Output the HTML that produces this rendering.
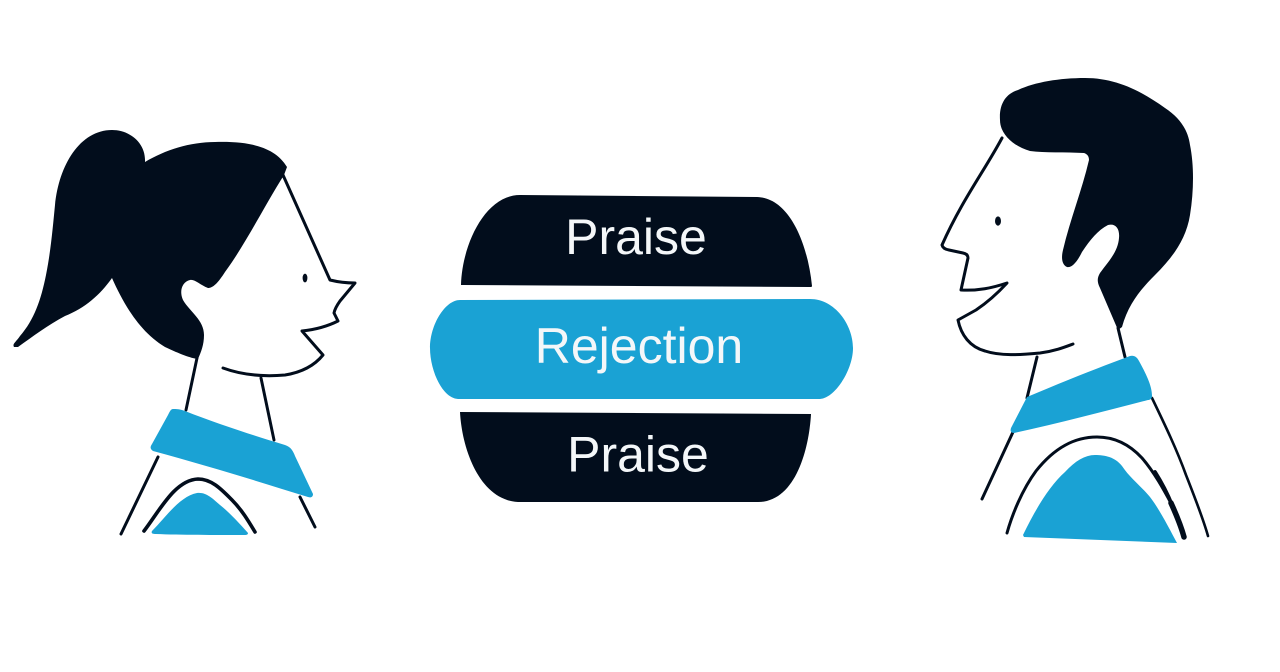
<!DOCTYPE html>
<html>
<head>
<meta charset="utf-8">
<style>
html,body{margin:0;padding:0;background:#fff;width:1280px;height:672px;overflow:hidden}
svg{display:block;filter:blur(.35px)}
text{font-family:"Liberation Sans",sans-serif;font-size:50px;fill:#f4f7f9;text-anchor:middle}
.l{fill:none;stroke:#020d1c;stroke-linecap:round;stroke-linejoin:round}
.d{fill:#020d1c}
.b{fill:#1aa2d4}
</style>
</head>
<body>
<svg width="1280" height="672" viewBox="0 0 1280 672" xmlns="http://www.w3.org/2000/svg">
<rect width="1280" height="672" fill="#fff"/>

<!-- Woman -->
<path class="l" stroke-width="3" d="M283 175L330 280Q342 283 355 283L340 301Q335 308 334 313L338 321Q322 329 302 331L323 355Q310 371 285 375Q250 378 223 368"/>
<path class="l" stroke-width="3" d="M197 358L186 410M261 378L274 440M158 457L121 534M300 497L315 527"/>
<path class="d" d="M14 347C12 344 16 342 20 336C34 320 41 300 46 275C51 250 53 225 55 205C59 165 80 130 112 130C130 130 146 143 145 162C165 150 190 142 215 142C250 141 275 147 287 167L284 175C265 205 245 245 225 272C218 283 213 288 208 288C200 285 195 279 190 280C182 282 179 291 183 300C190 312 204 320 204 335C204 345 201 352 198 359C190 358 180 354 165 347C140 332 124 305 112 278C100 295 85 308 65 316C48 325 32 337 18 347Z"/>
<ellipse class="d" cx="305" cy="278" rx="2.4" ry="4.4"/>
<path class="b" d="M173 409C176 409 180 409 185 411C215 423 255 436 285 445C291 447 293 451 295 456L313 494C313 497 311 498 308 497C260 482 205 465 153 451C150 449 150 447 152 444L168 415C170 411 171 409 173 409Z"/>
<path class="l" stroke-width="3.6" d="M144 531C160 510 175 480 198 479C212 479 222 490 232 500C242 510 249 522 255 532"/>
<path class="b" d="M152 531C165 518 180 496 197 493C206 492 212 498 220 505C230 513 240 524 248 533C248 535 246 535 244 535C215 535 180 535 156 534C152 534 151 533 152 531Z"/>

<!-- Burger -->
<path class="d" d="M461 285C462 245 485 195 520 195L757 197C790 198 808 245 812 286C812 287 811 287 810 287L463 285C462 285 461 285 461 285Z"/>
<path class="b" d="M430 348C430 325 445 300 460 300L810 299C835 299 853 325 853 348C853 370 835 398 820 399L458 399C442 398 430 370 430 348Z"/>
<path class="d" d="M460 412L811 414C809 450 795 502 758 502L518 502C480 500 462 450 460 412Z"/>
<text x="636" y="254">Praise</text>
<text x="639" y="363">Rejection</text>
<text x="638" y="471.5">Praise</text>

<!-- Man -->
<path class="l" stroke-width="3" d="M1002 138C985 170 962 200 942 245Q943 249 949 250L963 253Q968 254 968 258L961 290C978 291 992 288 1007 283C995 296 985 304 976 310L958 320C961 335 970 347 985 351C1000 356 1020 355 1040 353C1055 351 1065 347 1073 344"/>
<path class="l" stroke-width="3" d="M1037 357L1027 398M1118 328L1125 357M1013 432L982 499"/>
<path class="l" stroke-width="2.6" d="M1152 398C1165 425 1177 450 1186 475C1195 498 1203 518 1208 536"/>
<path class="d" d="M1000 120C999 105 1005 94 1018 90C1035 82 1060 78 1085 78C1115 78 1140 90 1165 108C1180 118 1188 130 1190 145C1194 165 1194 190 1190 215C1186 240 1172 258 1155 275C1140 290 1128 305 1122 327L1118 330L1100 288C1097 282 1097 278 1100 273C1108 262 1118 252 1119 238C1120 228 1115 223 1108 225C1098 230 1090 240 1082 252C1077 262 1072 268 1067 267C1062 265 1061 258 1063 250C1070 220 1082 190 1089 160C1089 156 1087 154 1084 153C1065 152 1045 153 1030 151C1015 147 1000 135 1000 120Z"/>
<ellipse class="d" cx="998" cy="221" rx="3" ry="4.6"/>
<path class="b" d="M1027 397C1060 383 1100 367 1130 356C1134 355 1137 357 1139 361C1145 372 1152 385 1152 396C1152 399 1150 400 1148 400C1105 411 1060 423 1014 433C1011 433 1010 431 1011 428Z"/>
<path class="l" stroke-width="3" d="M1007 533C1012 515 1022 490 1036 471C1055 447 1075 437 1097 437C1115 437 1130 445 1142 458C1155 473 1165 492 1172 505"/>
<path class="l" stroke-width="3.8" d="M1155 472C1162 483 1168 495 1172 505"/>
<path class="l" stroke-width="5.5" d="M1171 503C1176 514 1181 526 1184 537"/>
<path class="b" d="M1023 535C1035 510 1050 485 1065 472C1075 461 1085 455 1095 455C1105 455 1115 457 1122 466C1130 478 1140 485 1150 497C1160 510 1170 530 1177 543L1024 537Z"/>
</svg>
</body>
</html>
